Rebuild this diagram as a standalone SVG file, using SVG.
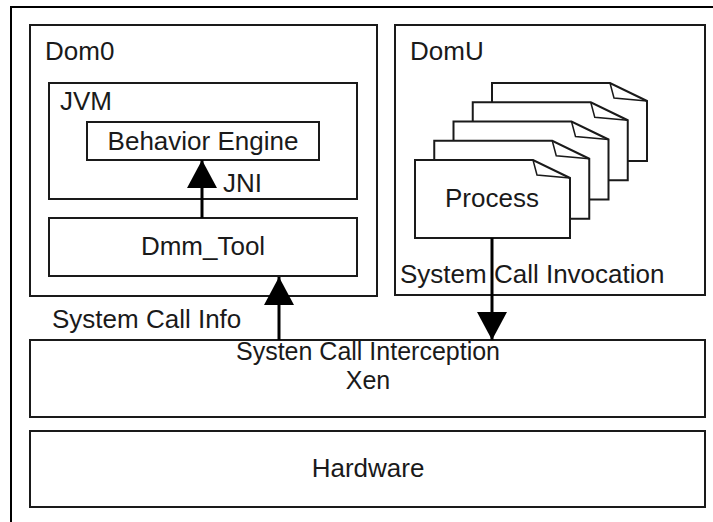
<svg xmlns="http://www.w3.org/2000/svg" width="713" height="522" viewBox="0 0 713 522">
<style>
.box{fill:#fff;stroke:#1a1a1a;stroke-width:2}
.frame{fill:#fff;stroke:#000;stroke-width:2}
.t{font-family:"Liberation Sans",Arial,sans-serif;font-size:26px;fill:#1a1a1a}
.s{font-size:25px}
.m{text-anchor:middle}
.arr{stroke:#000;stroke-width:3;fill:none;marker-end:url(#ah)}
.pg{fill:#fff;stroke:#1a1a1a;stroke-width:2;stroke-linejoin:miter}
.fold{fill:none;stroke:#1a1a1a;stroke-width:1.5}
</style>
<defs>
<marker id="ah" markerUnits="userSpaceOnUse" viewBox="0 0 28 30" markerWidth="28" markerHeight="30" refX="28" refY="15" orient="auto">
<path d="M0,0 L28,15 L0,30 Z" fill="#000"/>
</marker>
<g id="page">
<path class="pg" d="M0,0 H118 L155,18 V78 H0 Z"/>
<path class="fold" d="M118,0 L122,15 L155,18"/>
</g>
</defs>
<rect class="frame" x="11" y="7" width="730" height="540"/>
<g id="dom0">
<rect class="box" x="30" y="25" width="347" height="271"/>
<text class="t" x="45" y="60">Dom0</text>
</g>
<g id="jvm">
<rect class="box" x="49" y="83" width="308" height="116"/>
<text class="t" x="60" y="110">JVM</text>
</g>
<g id="behavior-engine">
<rect class="box" x="87" y="122" width="232" height="38"/>
<text class="t m" x="203" y="150">Behavior Engine</text>
</g>
<g id="dmm-tool">
<rect class="box" x="49" y="218" width="308" height="58"/>
<text class="t m" x="203" y="255">Dmm_Tool</text>
</g>
<g id="domu">
<rect class="box" x="395" y="25" width="310" height="270"/>
<text class="t" x="410" y="60">DomU</text>
</g>
<g id="process">
<use href="#page" x="492" y="83"/>
<use href="#page" x="472.75" y="102.25"/>
<use href="#page" x="453.5" y="121.5"/>
<use href="#page" x="434.25" y="140.75"/>
<use href="#page" x="415" y="160"/>
<text class="t m" x="492" y="207">Process</text>
</g>
<g id="xen">
<rect class="box" x="30" y="340" width="675" height="77"/>
<text class="t s m" x="368" y="360">Systen Call Interception</text>
<text class="t s m" x="368" y="389">Xen</text>
</g>
<g id="hardware">
<rect class="box" x="30" y="431" width="675" height="76"/>
<text class="t m" x="368" y="477">Hardware</text>
</g>
<g id="connectors">
<line class="arr" x1="202" y1="218" x2="202" y2="160"/>
<line class="arr" x1="279" y1="340" x2="279" y2="277"/>
<line class="arr" x1="492" y1="238" x2="492" y2="340"/>
</g>
<g id="labels">
<text class="t" x="223" y="192">JNI</text>
<text class="t" x="400" y="283">System Call Invocation</text>
<text class="t" x="52" y="328">System Call Info</text>
</g>
</svg>
